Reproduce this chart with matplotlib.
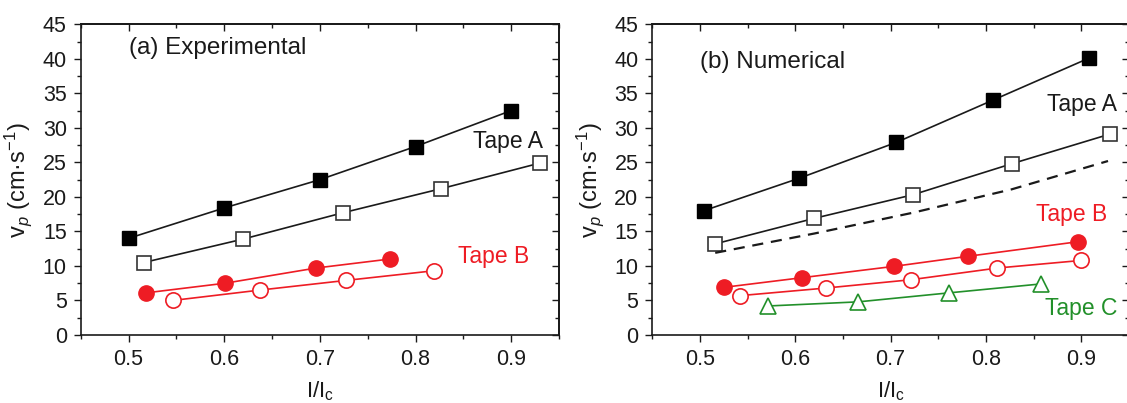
import matplotlib
matplotlib.use("Agg")
import matplotlib.pyplot as plt
from matplotlib.ticker import MultipleLocator

plt.rcParams['font.family'] = ['Liberation Sans', 'DejaVu Sans']
plt.rcParams['mathtext.fontset'] = 'custom'
plt.rcParams['mathtext.rm'] = 'Liberation Sans'
plt.rcParams['mathtext.it'] = 'Liberation Sans:italic'

RED = '#ee1c24'
GREEN = '#22902a'
INK = '#1a1a1a'

# ---- (a) Experimental ----
expA_fill_x = [0.500, 0.600, 0.700, 0.800, 0.900]
expA_fill_y = [14.0, 18.4, 22.5, 27.3, 32.5]
expA_open_x = [0.516, 0.620, 0.724, 0.827, 0.930]
expA_open_y = [10.5, 13.9, 17.7, 21.2, 24.9]
expB_fill_x = [0.518, 0.601, 0.696, 0.773]
expB_fill_y = [6.1, 7.5, 9.7, 11.0]
expB_open_x = [0.546, 0.637, 0.727, 0.819]
expB_open_y = [5.0, 6.5, 7.9, 9.3]

# ---- (b) Numerical ----
numA_fill_x = [0.504, 0.604, 0.706, 0.807, 0.908]
numA_fill_y = [18.0, 22.7, 27.9, 34.0, 40.1]
numA_open_x = [0.516, 0.620, 0.723, 0.827, 0.930]
numA_open_y = [13.2, 16.9, 20.3, 24.8, 29.1]
numA_dash_x = [0.516, 0.620, 0.723, 0.827, 0.928]
numA_dash_y = [11.9, 14.7, 17.7, 21.1, 25.2]
numB_fill_x = [0.525, 0.607, 0.704, 0.781, 0.896]
numB_fill_y = [6.9, 8.3, 9.95, 11.4, 13.5]
numB_open_x = [0.542, 0.632, 0.721, 0.812, 0.900]
numB_open_y = [5.7, 6.8, 8.0, 9.7, 10.8]
numC_x = [0.571, 0.666, 0.761, 0.858]
numC_y = [4.2, 4.8, 6.1, 7.4]

xlim = (0.45, 0.95)
ylim = (0, 45)
xticks = [0.5, 0.6, 0.7, 0.8, 0.9]
xticklabels = ['0.5', '0.6', '0.7', '0.8', '0.9']
yticks = [0, 5, 10, 15, 20, 25, 30, 35, 40, 45]

W, H = 1127, 403
fig = plt.figure(figsize=(W / 100, H / 100), dpi=100)
fig.patch.set_facecolor('white')

ax1 = fig.add_axes([80.7 / W, (H - 335) / H, (559 - 80.7) / W, (335 - 24.3) / H])
ax2 = fig.add_axes([652.3 / W, (H - 335) / H, (1129 - 652.3) / W, (335 - 24.3) / H])

ms = 10.5
lw = 1.2


def style(ax):
    ax.set_xlim(*xlim)
    ax.set_ylim(*ylim)
    ax.set_xticks(xticks)
    ax.set_xticklabels(xticklabels)
    ax.set_yticks(yticks)
    ax.xaxis.set_minor_locator(MultipleLocator(0.05))
    ax.yaxis.set_minor_locator(MultipleLocator(2.5))
    ax.tick_params(which='both', direction='out', top=False, right=False,
                   labelsize=15.5, width=1.0, color=INK, labelcolor=INK)
    ax.tick_params(which='major', length=5, pad=5)
    ax.tick_params(which='minor', length=3)
    for s in ax.spines.values():
        s.set_linewidth(1.2)
        s.set_color(INK)
    # mirrored inward ticks on top and right
    sx = ax.secondary_xaxis('top')
    sx.set_xticks(xticks)
    sx.xaxis.set_minor_locator(MultipleLocator(0.05))
    sx.tick_params(which='both', direction='in', labeltop=False, width=1.0, color=INK)
    sx.tick_params(which='major', length=5)
    sx.tick_params(which='minor', length=3)
    sx.spines['top'].set_linewidth(1.2)
    sy = ax.secondary_yaxis('right')
    sy.set_yticks(yticks)
    sy.yaxis.set_minor_locator(MultipleLocator(2.5))
    sy.tick_params(which='both', direction='in', labelright=False, width=1.0, color=INK)
    sy.tick_params(which='major', length=5)
    sy.tick_params(which='minor', length=3)
    sy.spines['right'].set_linewidth(1.2)
    ax.set_xlabel(r'I/I$_\mathregular{c}$', fontsize=16, color=INK)
    ax.xaxis.set_label_coords(0.5, -0.142)
    ax.set_ylabel(r'$\mathregular{v}_{\mathit{p}}$ (cm·s$^{\mathregular{-1}}$)', fontsize=17, color=INK)
    ax.yaxis.set_label_coords(-0.098, 0.5)


# Panel (a)
ax1.plot(expA_fill_x, expA_fill_y, '-s', color=INK, lw=lw, ms=ms, mfc='black', mec='black')
ax1.plot(expA_open_x, expA_open_y, '-s', color=INK, lw=lw, ms=ms, mfc='white', mec='#333333', mew=1.2)
ax1.plot(expB_fill_x, expB_fill_y, '-o', color=RED, lw=lw, ms=ms + 0.5, mfc=RED, mec=RED)
ax1.plot(expB_open_x, expB_open_y, '-o', color=RED, lw=lw, ms=ms + 0.5, mfc='white', mec=RED, mew=1.2)
style(ax1)
ax1.text(0.5, 41.6, '(a) Experimental', fontsize=17.5, ha='left', va='center', color=INK)
ax1.text(0.860, 28.0, 'Tape A', fontsize=16.5, ha='left', va='center', color=INK)
ax1.text(0.844, 11.4, 'Tape B', fontsize=16.5, ha='left', va='center', color=RED)

# Panel (b)
ax2.plot(numA_fill_x, numA_fill_y, '-s', color=INK, lw=lw, ms=ms, mfc='black', mec='black')
ax2.plot(numA_open_x, numA_open_y, '-s', color=INK, lw=lw, ms=ms, mfc='white', mec='#333333', mew=1.2)
ax2.plot(numA_dash_x, numA_dash_y, '--', color=INK, lw=1.6, dashes=(5, 3.5))
ax2.plot(numB_fill_x, numB_fill_y, '-o', color=RED, lw=lw, ms=ms + 0.5, mfc=RED, mec=RED)
ax2.plot(numB_open_x, numB_open_y, '-o', color=RED, lw=lw, ms=ms + 0.5, mfc='white', mec=RED, mew=1.2)
ax2.plot(numC_x, numC_y, '-^', color=GREEN, lw=lw, ms=ms + 1, mfc='white', mec=GREEN, mew=1.2)
style(ax2)
ax2.text(0.5, 39.5, '(b) Numerical', fontsize=17.5, ha='left', va='center', color=INK)
ax2.text(0.864, 33.4, 'Tape A', fontsize=16.5, ha='left', va='center', color=INK)
ax2.text(0.852, 17.5, 'Tape B', fontsize=16.5, ha='left', va='center', color=RED)
ax2.text(0.862, 3.9, 'Tape C', fontsize=16.5, ha='left', va='center', color=GREEN)

fig.savefig('out.png', dpi=100)
